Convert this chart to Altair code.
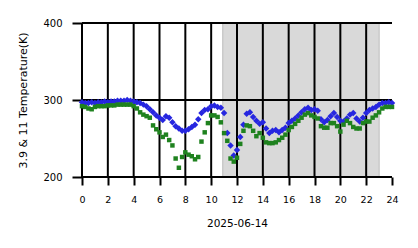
import altair as alt
import pandas as pd

hours = [0, 0.25, 0.5, 0.75, 1, 1.25, 1.5, 1.75, 2, 2.25, 2.5, 2.75, 3, 3.25, 3.5, 3.75,
         4, 4.25, 4.5, 4.75, 5, 5.25, 5.5, 5.75, 6, 6.25, 6.5, 6.75, 7, 7.25, 7.5, 7.75,
         8, 8.25, 8.5, 8.75, 9, 9.25, 9.5, 9.75, 10, 10.25, 10.5, 10.75, 11, 11.25, 11.5, 11.75,
         12, 12.25, 12.5, 12.75, 13, 13.25, 13.5, 13.75, 14, 14.25, 14.5, 14.75, 15, 15.25, 15.5, 15.75,
         16, 16.25, 16.5, 16.75, 17, 17.25, 17.5, 17.75, 18, 18.25, 18.5, 18.75, 19, 19.25, 19.5, 19.75,
         20, 20.25, 20.5, 20.75, 21, 21.25, 21.5, 21.75, 22, 22.25, 22.5, 22.75, 23, 23.25, 23.5, 23.75, 24]

temp_39 = [297, 296, 296, 297, 296, 297, 297, 298, 297, 298, 298, 299, 299, 299, 300, 299,
           298, 297, 296, 294, 292, 288, 284, 280, 277, 274, 279, 277, 271, 266, 263, 260,
           260, 262, 265, 268, 275, 283, 287, 288, 292, 293, 291, 290, 283, 257, 241, 228,
           235, 252, 268, 282, 284, 278, 273, 269, 271, 263, 257, 260, 261, 258, 261, 264,
           270, 273, 276, 280, 284, 288, 290, 287, 288, 286, 275, 271, 274, 279, 283, 278,
           273, 272, 276, 281, 283, 276, 272, 277, 283, 287, 289, 291, 294, 296, 296, 297, 296]

temp_11 = [292, 291, 289, 288, 291, 292, 292, 292, 293, 293, 293, 294, 294, 294, 294, 294,
           292, 289, 284, 281, 279, 277, 267, 262, 258, 252, 255, 248, 241, 224, 212, 226,
           232, 229, 227, 223, 226, 246, 258, 270, 280, 280, 278, 271, 257, 247, 224, 220,
           225, 243, 260, 267, 266, 260, 253, 257, 251, 245, 244, 244, 245, 248, 251, 255,
           261, 265, 269, 273, 277, 281, 283, 280, 278, 276, 266, 264, 264, 270, 270, 266,
           259, 268, 273, 270, 265, 263, 263, 270, 272, 272, 277, 280, 284, 289, 291, 291, 291]

shade_start = [10.9]
shade_end = [23.0]
x_grid = [0, 2, 4, 6, 8, 10, 12, 14, 16, 18, 20, 22]
y_grid = [200, 300, 400]
x_ticks = [0, 2, 4, 6, 8, 10, 12, 14, 16, 18, 20, 22, 24]

FONT = "DejaVu Sans"

df39 = pd.DataFrame({"hour": hours, "temp": temp_39})
df11 = pd.DataFrame({"hour": hours, "temp": temp_11})
shade = pd.DataFrame({"start": shade_start, "end": shade_end})
xg = pd.DataFrame({"hour": x_grid})
yg = pd.DataFrame({"temp": y_grid})

xscale = alt.Scale(domain=[0, 24], nice=False, zero=False)
yscale = alt.Scale(domain=[200, 400], nice=False, zero=False)

xaxis = alt.Axis(values=x_ticks, grid=False, domain=False, tickColor="black", tickWidth=2,
                 tickSize=8, labelFont=FONT, labelFontSize=9.5, labelColor="black",
                 labelOverlap=False, labelFlush=False, labelBound=False, labelSeparation=0,
                 labelPadding=9, title="2025-06-14", titleFont=FONT, titleFontSize=10.5,
                 titleFontWeight="normal", titleColor="black", titleY=46, titleBaseline="middle")
yaxis = alt.Axis(values=y_grid, grid=False, domain=False, tickColor="black", tickWidth=2,
                 tickSize=10, labelFont=FONT, labelFontSize=10, labelColor="black",
                 labelOverlap=False, labelFlush=False, labelBound=False,
                 labelPadding=10, title="3.9 & 11 Temperature(K)", titleFont=FONT,
                 titleFontSize=11, titleFontWeight="normal", titleColor="black",
                 titleX=-59, titleY=77, titleAngle=270, titleAlign="center", titleBaseline="middle")

rect = alt.Chart(shade).mark_rect(color="#d9d9d9", stroke="#c9c9c9", strokeWidth=1.5).encode(
    x=alt.X("start:Q", scale=xscale, axis=xaxis),
    x2="end:Q",
    y=alt.value(0),
    y2=alt.value(154),
)

vrules = alt.Chart(xg).mark_rule(color="black", strokeWidth=2).encode(
    x=alt.X("hour:Q", scale=xscale, axis=xaxis),
    y=alt.value(0),
    y2=alt.value(154),
)

hrules = alt.Chart(yg).mark_rule(color="black", strokeWidth=2).encode(
    y=alt.Y("temp:Q", scale=yscale, axis=yaxis),
    x=alt.value(0),
    x2=alt.value(310),
)

blue = alt.Chart(df39).mark_point(shape="diamond", filled=True, color="#2626e0", size=42, opacity=1).encode(
    x=alt.X("hour:Q", scale=xscale, axis=xaxis),
    y=alt.Y("temp:Q", scale=yscale, axis=yaxis),
)

green = alt.Chart(df11).mark_point(shape="square", filled=True, color="#1f821f", size=20, opacity=1).encode(
    x=alt.X("hour:Q", scale=xscale, axis=xaxis),
    y=alt.Y("temp:Q", scale=yscale, axis=yaxis),
)

chart = alt.layer(rect, vrules, hrules, blue, green).properties(
    width=310,
    height=154,
    autosize=alt.AutoSizeParams(type="none"),
    padding={"left": 82, "top": 23, "right": 26, "bottom": 71},
    background="white",
).configure_view(stroke=None).configure_axis(labelOverlap=False)

chart.save("out.html", embed_options={"renderer": "svg", "actions": False})
